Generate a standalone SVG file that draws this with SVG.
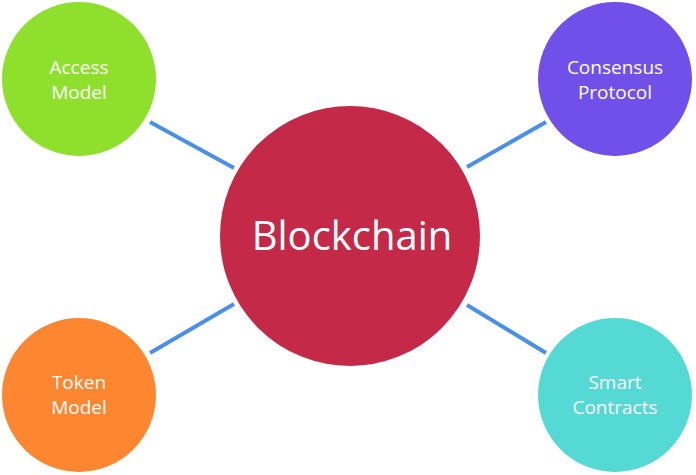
<svg xmlns="http://www.w3.org/2000/svg" width="696" height="475" viewBox="0 0 696 475">
<style>
.l{stroke:#4a8fe8;stroke-width:4}
.t{font-family:"Open Sans","Liberation Sans",sans-serif;fill:#fff;text-anchor:middle;font-size:19px}
.big{font-size:40px}
.c{stroke:#fff;stroke-width:2}
</style>
<rect width="696" height="475" fill="#fff"/>
<g id="connectors">
<line class="l" x1="150" y1="122" x2="234" y2="168"/>
<line class="l" x1="546" y1="122" x2="467" y2="167"/>
<line class="l" x1="150" y1="353" x2="234" y2="304"/>
<line class="l" x1="546" y1="353" x2="467" y2="305"/>
</g>
<g id="blockchain"><circle class="c" cx="350" cy="236" r="131" fill="#c42a47"/><text class="t big" x="352" y="250">Blockchain</text></g>
<g id="access"><circle class="c" cx="79" cy="79" r="78" fill="#8ee02c"/><text class="t" x="79" y="74">Access</text><text class="t" x="79" y="99">Model</text></g>
<g id="consensus"><circle class="c" cx="615" cy="79" r="78" fill="#7150ea"/><text class="t" x="615" y="74">Consensus</text><text class="t" x="615" y="99">Protocol</text></g>
<g id="token"><circle class="c" cx="79" cy="395" r="78" fill="#fd8630"/><text class="t" x="79" y="389">Token</text><text class="t" x="79" y="414">Model</text></g>
<g id="smart"><circle class="c" cx="615" cy="395" r="78" fill="#55d9d4"/><text class="t" x="615" y="389">Smart</text><text class="t" x="615" y="414">Contracts</text></g>
</svg>
